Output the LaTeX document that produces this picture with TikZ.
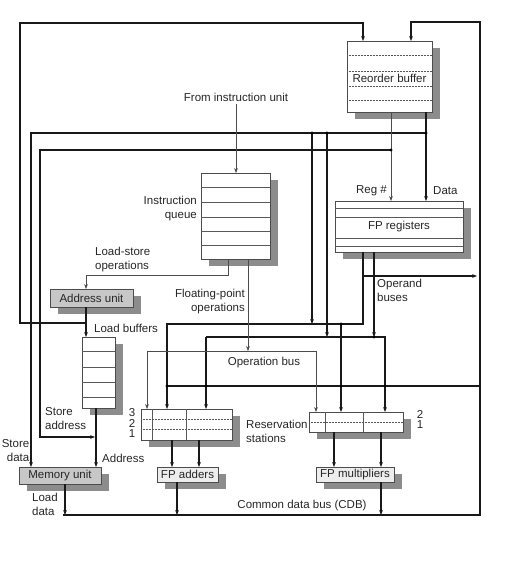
\documentclass[tikz,border=0pt]{standalone}
\usepackage{fontspec}
\setmainfont{Liberation Sans}
\usetikzlibrary{arrows.meta,shadows}
\begin{document}
\begin{tikzpicture}[x=1pt,y=-1pt,
  font=\fontsize{11.5}{14}\selectfont,
  bx/.style={draw=black!70, line width=0.6pt, fill=white, inner sep=0pt, outer sep=0pt,
     text=black!85,
     drop shadow={shadow xshift=7.5pt, shadow yshift=-7pt, fill=black!45, opacity=1}},
  gbx/.style={bx, fill=black!22},
  lbx/.style={bx, fill=black!7},
  row/.style={draw=black!65, line width=0.5pt},
  drow/.style={row, densely dotted},
  bus/.style={draw=black!90, line width=1.1pt},
  fine/.style={draw=black!70, line width=0.6pt},
  tip/.style={-{Stealth[length=5pt,width=3.8pt]}},
  lbl/.style={inner sep=0pt, text=black!85},
  jdot/.style={fill=black}
]
\useasboundingbox (0,0) rectangle (509,563);

% ---------- boxes ----------
\node[bx, minimum width=85pt, minimum height=71pt, anchor=north west] (rob) at (347,41) {};
\foreach \y in {55,71,86,100} \draw[drow] (347,\y) -- (432,\y);
\node[lbl] (robl) at (389.5,78.5) {Reorder buffer};

\node[bx, minimum width=69pt, minimum height=86pt, anchor=north west] (iq) at (201,173) {};
\foreach \y in {187,202,217,231,245} \draw[row] (201,\y) -- (270,\y);

\node[bx, minimum width=128pt, minimum height=51pt, anchor=north west] (fpr) at (335,201) {};
\foreach \y in {208,217,238,246} \draw[row] (335,\y) -- (463,\y);
\node[lbl] (fprl) at (399,227) {FP registers};

\node[gbx, minimum width=83pt, minimum height=18pt, anchor=north west] (au) at (50,289) {Address unit};

\node[bx, minimum width=33pt, minimum height=71pt, anchor=north west] (lb) at (82,337) {};
\foreach \y in {351,367,382,397} \draw[row] (82,\y) -- (115,\y);

\node[gbx, minimum width=82pt, minimum height=17pt, anchor=north west] (mu) at (19,467) {Memory unit};

\node[bx, minimum width=91pt, minimum height=31pt, anchor=north west] (rsa) at (141,409) {};
\draw[row] (152,409) -- (152,440);
\draw[row] (186,409) -- (186,440);
\foreach \y in {419,429} \draw[drow] (141,\y) -- (232,\y);

\node[bx, minimum width=94pt, minimum height=20pt, anchor=north west] (rsm) at (309,412) {};
\draw[row] (325,412) -- (325,432);
\draw[row] (363,412) -- (363,432);
\draw[drow] (309,422) -- (403,422);

\node[lbx, minimum width=61pt, minimum height=15pt, anchor=north west] (fpa) at (157,467) {FP adders};
\node[lbx, minimum width=78pt, minimum height=15pt, anchor=north west] (fpm) at (316,467) {FP multipliers};

% ---------- labels ----------
\node[lbl] (fiu) at (236,97) {From instruction unit};
\node[lbl, anchor=east] (regl) at (387,191) {Reg \#};
\node[lbl, anchor=west] (datal) at (433,191) {Data};
\node[lbl, anchor=east, align=right] (iql) at (197,208.5) {Instruction\\queue};
\node[lbl, anchor=west, align=left] (lsl) at (95,259.5) {Load-store\\operations};
\node[lbl, anchor=east, align=right] (fpol) at (245,301.5) {Floating-point\\operations};
\node[lbl, anchor=west, align=left] (obl) at (377,290.5) {Operand\\buses};
\node[lbl, anchor=west] (lbl1) at (94,328) {Load buffers};
\node[lbl] (opbl) at (264,363) {Operation bus};
\node[lbl, anchor=west, align=left] (sal) at (45,419) {Store\\address};
\node[lbl, anchor=east, align=right] (sdl) at (29.5,451) {Store\\data};
\node[lbl, anchor=west] (adl) at (102,458) {Address};
\node[lbl, anchor=west, align=left] (ldl) at (32,504.5) {Load\\data};
\node[lbl] (cdbl) at (302,506) {Common data bus (CDB)};
\node[lbl, anchor=west, align=left] (rsl) at (246,431) {Reservation\\stations};
\node[lbl] (n3) at (132,413) {3};
\node[lbl] (n2) at (132,423.5) {2};
\node[lbl] (n1) at (132,434) {1};
\node[lbl] (m2) at (420,414) {2};
\node[lbl] (m1) at (420,425) {1};

% ---------- connectors ----------
% top-left loop into reorder buffer
\coordinate (tl1) at (20,23);
\coordinate (tl2) at (363,23);
\coordinate (aj) at (86,323);
\draw[bus,tip] (aj) -- (aj -| tl1) -- (tl1) -- (tl2) -- (tl2 |- rob.north);

% common data bus
\coordinate (cdbL) at (63,515);
\coordinate (cdbR) at (480,515);
\coordinate (tr) at (480,22);
\coordinate (tr2) at (411,22);
\draw[bus,tip] (cdbL) -- (cdbR) -- (tr) -- (tr2) -- (tr2 |- rob.north);
\coordinate (cr) at (480,386);
\coordinate (cl) at (167,386);
\draw[bus] (cr) -- (cl);

% reorder buffer data output
\coordinate (dx) at (426,133);
\coordinate (sd) at (31,133);
\coordinate (d1) at (312,133);
\coordinate (d2) at (327,133);
\draw[bus,tip] (dx |- rob.south) -- (dx |- fpr.north);
\draw[bus,tip] (dx) -- (sd) -- (sd |- mu.north);

% reorder buffer register number output
\coordinate (rx) at (391,150);
\coordinate (sa1) at (40,150);
\coordinate (sa2) at (40,437);
\coordinate (sa3) at (95,437);
\draw[fine,tip] (rx |- rob.south) -- (rx |- fpr.north);
\draw[bus,tip] (rx) -- (sa1) -- (sa2) -- (sa3);

% operand bus 1
\coordinate (b1) at (363,324);
\coordinate (b1l) at (167,324);
\coordinate (b1m) at (341,324);
\coordinate (ob) at (363,276);
\coordinate (obr) at (477,276);
\draw[bus,tip] (b1 |- fpr.south) -- (b1) -- (b1l) -- (b1l |- rsa.north);
\draw[bus,tip] (b1m) -- (b1m |- rsm.north);
\draw[bus,tip] (ob) -- (obr);
\draw[bus,tip] (d1) -- (d1 |- b1);

% operand bus 2
\coordinate (b2s) at (374,337);
\coordinate (b2l) at (206,337);
\coordinate (b2r) at (385,337);
\draw[bus,tip] (b2s |- fpr.south) -- (b2s);
\draw[bus,tip] (b2l) -- (b2l |- rsa.north);
\draw[bus,tip] (b2l) -- (b2r) -- (b2r |- rsm.north);
\draw[bus,tip] (d2) -- (d2 |- b2l);

% operation bus
\coordinate (opl) at (147,351);
\coordinate (opr) at (316,351);
\coordinate (fpo) at (248,351);
\draw[fine,tip] (opl) -- (opl |- rsa.north);
\draw[fine,tip] (opl) -- (opr) -- (opr |- rsm.north);
\draw[fine,tip] (fpo |- iq.south) -- (fpo);

% load-store operations
\coordinate (ls1) at (228,275);
\coordinate (ls2) at (86,275);
\draw[fine,tip] (ls1 |- iq.south) -- (ls1) -- (ls2) -- (ls2 |- au.north);

% from instruction unit
\draw[fine,tip] ([yshift=-3pt]fiu.south) -- (fiu.south |- iq.north);

% address unit -> load buffers -> memory unit
\draw[bus,tip] (aj |- au.south) -- (aj |- lb.north);
\coordinate (lbo) at (96,437);
\draw[bus,tip] (lbo |- lb.south) -- (lbo |- mu.north);

% reservation stations -> functional units
\coordinate (a1) at (172,450);
\coordinate (a2) at (199,450);
\coordinate (q1) at (334,450);
\coordinate (q2) at (381,450);
\draw[bus,tip] (a1 |- rsa.south) -- (a1 |- fpa.north);
\draw[bus,tip] (a2 |- rsa.south) -- (a2 |- fpa.north);
\draw[bus,tip] (q1 |- rsm.south) -- (q1 |- fpm.north);
\draw[bus,tip] (q2 |- rsm.south) -- (q2 |- fpm.north);

% functional units -> CDB
\coordinate (fao) at (177,515);
\coordinate (fmo) at (381,515);
\coordinate (muo) at (65,515);
\draw[bus,tip] (fao |- fpa.south) -- (fao);
\draw[bus,tip] (fmo |- fpm.south) -- (fmo);
\draw[bus,tip] (muo |- mu.south) -- (muo);

% junction dots
\foreach \p in {dx,d1,d2,rx,b1m,b2s} \fill[jdot] (\p) circle (1.7pt);
\foreach \q in {167,206,341,385} \fill[jdot] (\q,386) circle (1.7pt);
\end{tikzpicture}
\end{document}
